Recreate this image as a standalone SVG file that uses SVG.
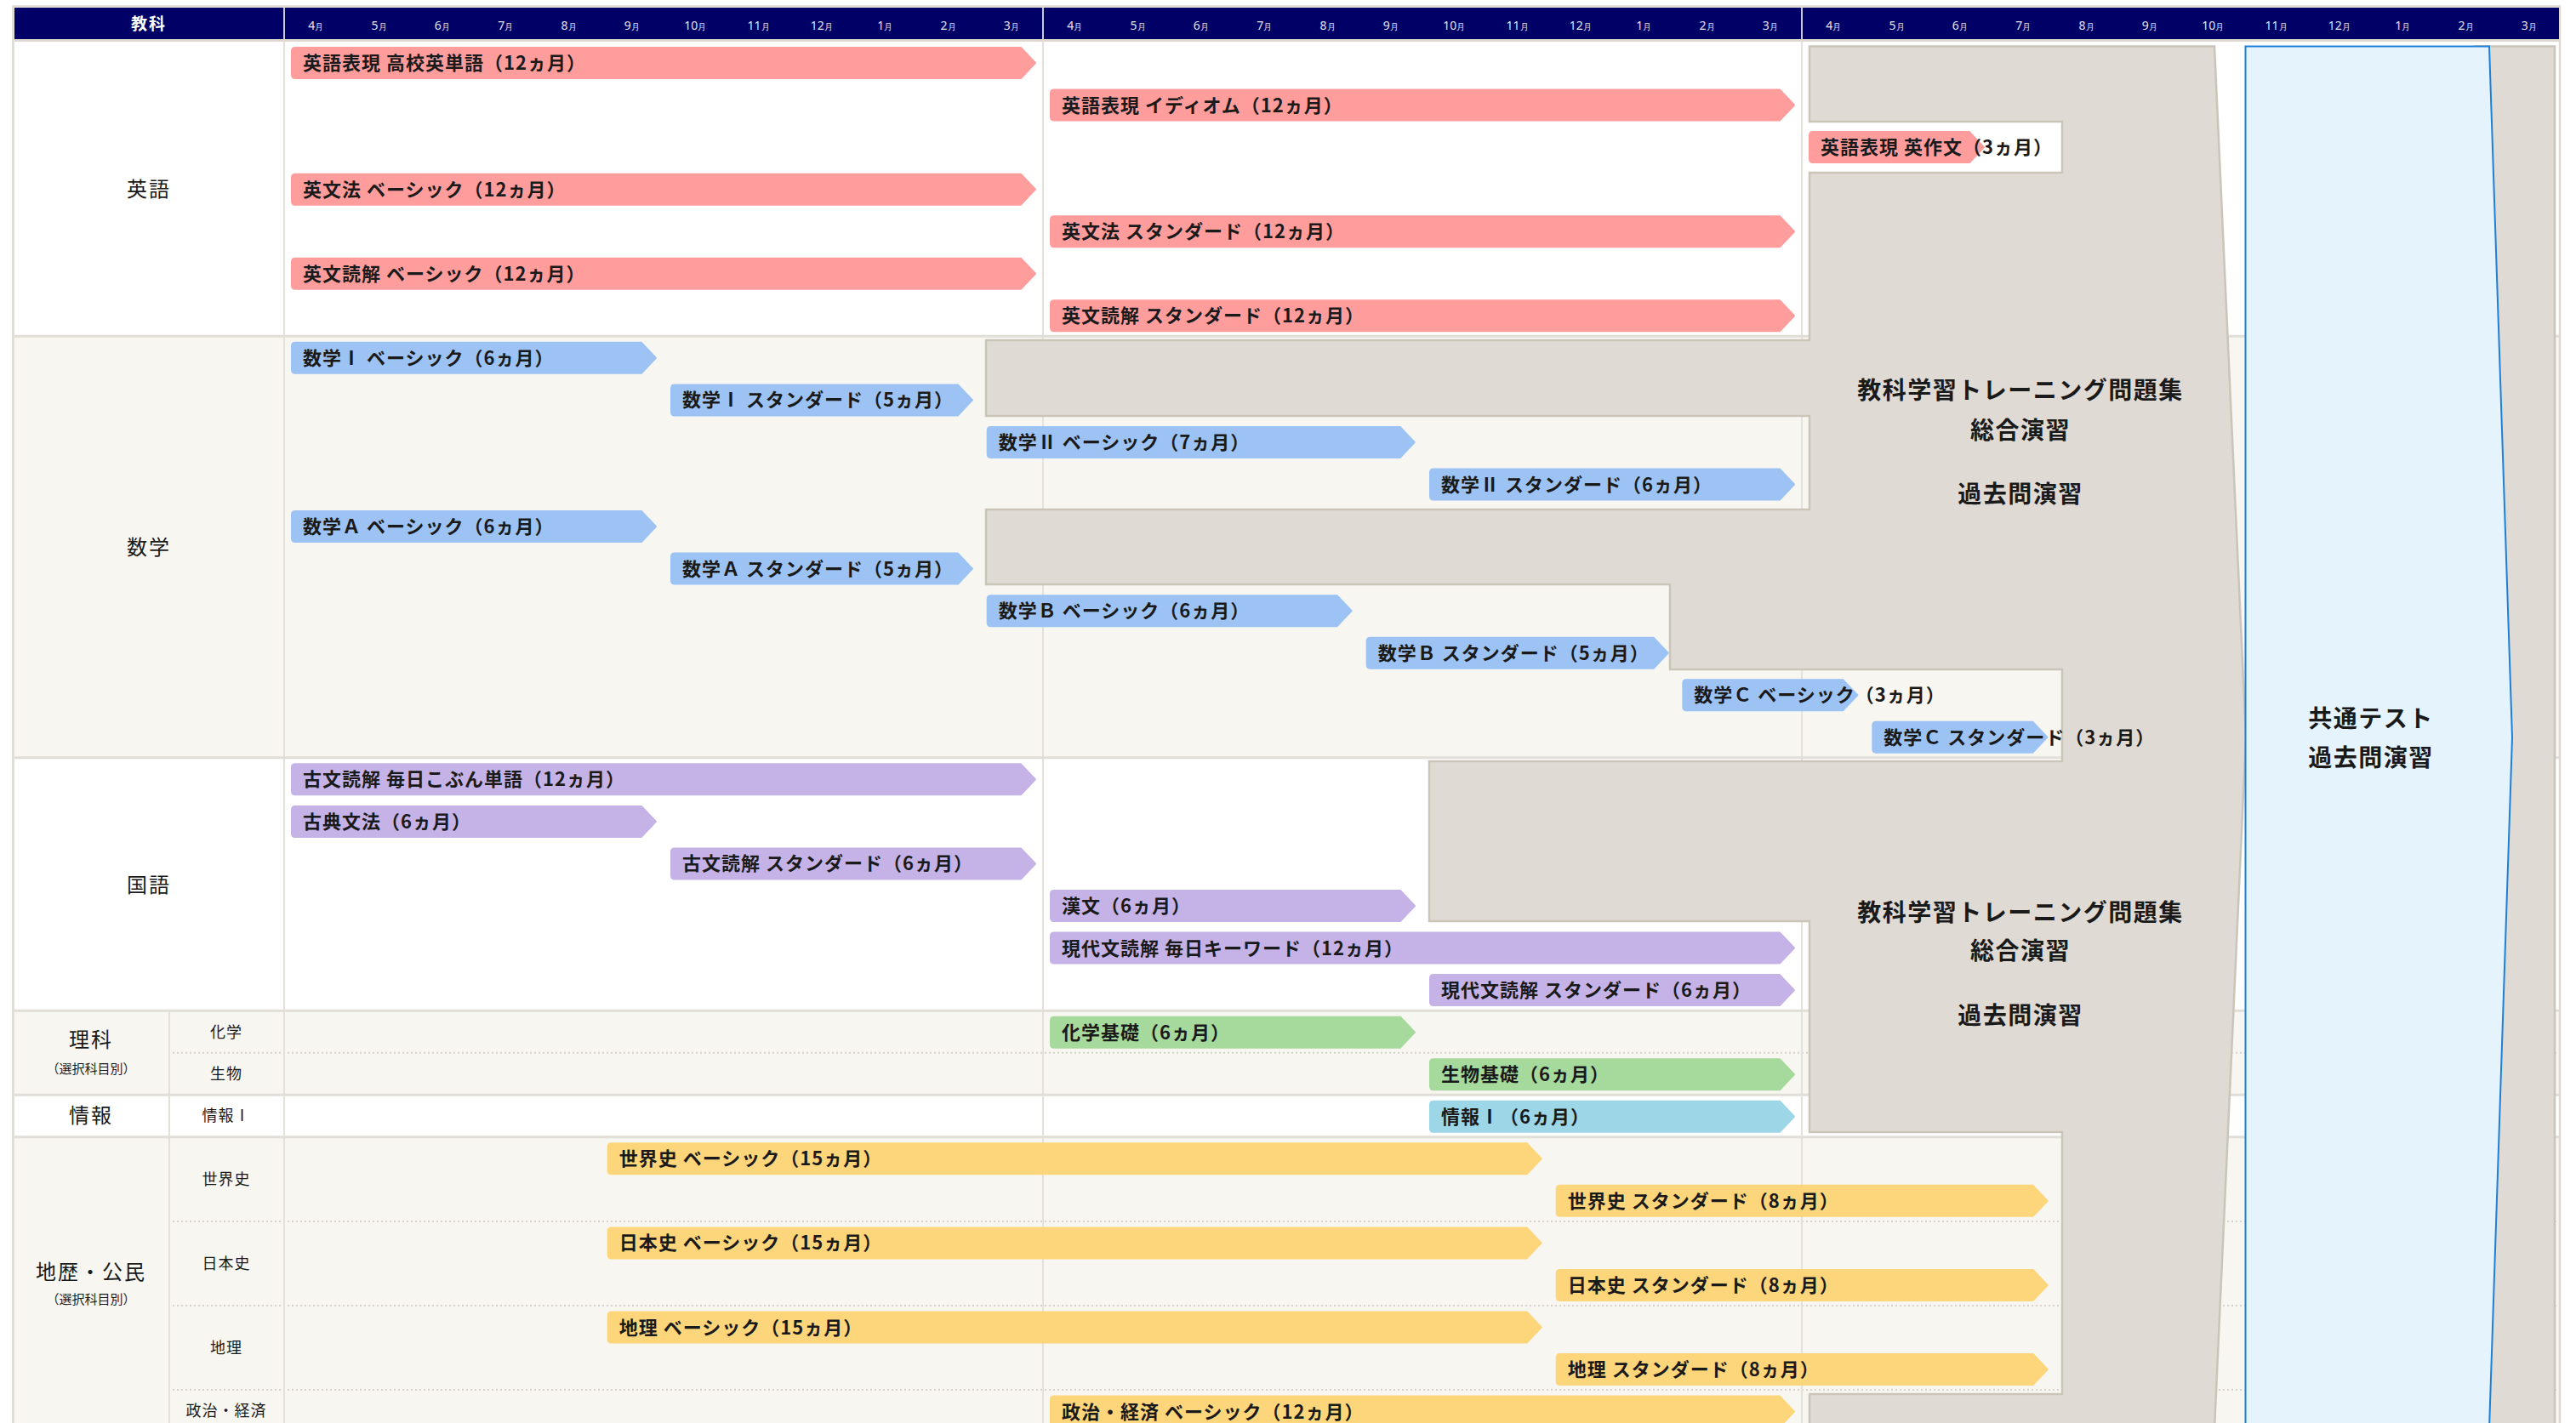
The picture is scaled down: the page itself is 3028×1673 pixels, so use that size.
<svg xmlns="http://www.w3.org/2000/svg" xmlns:xlink="http://www.w3.org/1999/xlink" width="3028" height="1673" viewBox="0 0 3028 1673">
<style>
text{font-family:"Noto Sans CJK JP","Noto Sans CJK SC","Noto Sans",sans-serif;}
.bar use{stroke-width:2;stroke-linejoin:round;}
.bar text{font-size:22px;font-weight:700;letter-spacing:1px;fill:#1a1a1a;stroke:none;}
.en{fill:#FF9D9D;stroke:#FF9D9D}
.ma{fill:#9CC3F4;stroke:#9CC3F4}
.jp{fill:#C5B2E6;stroke:#C5B2E6}
.sc{fill:#A6D99C;stroke:#A6D99C}
.inf{fill:#9DD6E7;stroke:#9DD6E7}
.so{fill:#FDD67B;stroke:#FDD67B}
.sec{stroke:#E1DED7;stroke-width:3}
.dot{stroke:#D6D2C9;stroke-width:2;stroke-dasharray:2 3}
.vl{stroke:#E4E1DA;stroke-width:2}
.mon{font-family:"Noto Sans","Liberation Sans",sans-serif;font-size:14px;fill:#E4E4F4;text-anchor:middle}
.mon tspan.m{font-size:10px}
.subj{font-size:24px;letter-spacing:2px;fill:#1a1a1a;text-anchor:middle}
.note{font-size:15px;fill:#1a1a1a;text-anchor:middle}
.sub{font-size:18px;letter-spacing:1px;fill:#1a1a1a;text-anchor:middle}
.big{font-size:28px;font-weight:700;letter-spacing:1.5px;fill:#1a1a1a;text-anchor:middle}
</style>
<defs>
<path id="b876" d="M5,1 H858 L875,19 L858,37 H5 Q1,37 1,33 V5 Q1,1 5,1 Z"/>
<path id="b207" d="M5,1 H189 L206,19 L189,37 H5 Q1,37 1,33 V5 Q1,1 5,1 Z"/>
<path id="b430" d="M5,1 H412 L429,19 L412,37 H5 Q1,37 1,33 V5 Q1,1 5,1 Z"/>
<path id="b356" d="M5,1 H338 L355,19 L338,37 H5 Q1,37 1,33 V5 Q1,1 5,1 Z"/>
<path id="b504" d="M5,1 H486 L503,19 L486,37 H5 Q1,37 1,33 V5 Q1,1 5,1 Z"/>
<path id="b1099" d="M5,1 H1081 L1098,19 L1081,37 H5 Q1,37 1,33 V5 Q1,1 5,1 Z"/>
<path id="b579" d="M5,1 H561 L578,19 L561,37 H5 Q1,37 1,33 V5 Q1,1 5,1 Z"/>
</defs>
<rect width="3028" height="1673" fill="#FFFFFF"/>

<g id="sections">
<rect x="17" y="48.5" width="2991" height="346.85" fill="#FFFFFF"/>
<rect x="17" y="395.35" width="2991" height="495.5" fill="#F7F6F1"/>
<rect x="17" y="890.85" width="2991" height="297.3" fill="#FFFFFF"/>
<rect x="17" y="1188.15" width="2991" height="99.1" fill="#F7F6F1"/>
<rect x="17" y="1287.25" width="2991" height="49.55" fill="#FFFFFF"/>
<rect x="17" y="1336.8" width="2991" height="360" fill="#F7F6F1"/>
</g>

<g id="grid">
<line class="dot" x1="203" y1="1237.7" x2="3008" y2="1237.7"/>
<line class="dot" x1="203" y1="1435.9" x2="3008" y2="1435.9"/>
<line class="dot" x1="203" y1="1535" x2="3008" y2="1535"/>
<line class="dot" x1="203" y1="1634.1" x2="3008" y2="1634.1"/>
<line class="vl" x1="334" y1="48" x2="334" y2="1700"/>
<line class="vl" x1="1226" y1="48" x2="1226" y2="1700"/>
<line class="vl" x1="2118" y1="48" x2="2118" y2="1700"/>
<line class="vl" x1="199" y1="1188" x2="199" y2="1700"/>
<line class="sec" x1="17" y1="395.35" x2="3008" y2="395.35"/>
<line class="sec" x1="17" y1="890.85" x2="3008" y2="890.85"/>
<line class="sec" x1="17" y1="1188.15" x2="3008" y2="1188.15"/>
<line class="sec" x1="17" y1="1287.25" x2="3008" y2="1287.25"/>
<line class="sec" x1="17" y1="1336.8" x2="3008" y2="1336.8"/>
<line x1="17" y1="47.5" x2="3008" y2="47.5" stroke="#DDD9D0" stroke-width="3"/>
<rect x="15.5" y="7.5" width="2993.5" height="1700" fill="none" stroke="#DDD9D0" stroke-width="2.5"/>
</g>

<g id="header">
<rect x="17" y="9" width="2991" height="37" fill="#000066"/>
<line x1="334" y1="9" x2="334" y2="46" stroke="#C9C9E2" stroke-width="2"/>
<line x1="1226" y1="9" x2="1226" y2="46" stroke="#C9C9E2" stroke-width="2"/>
<line x1="2118" y1="9" x2="2118" y2="46" stroke="#C9C9E2" stroke-width="2"/>
<text x="175" y="35" font-size="19" font-weight="700" letter-spacing="2" fill="#FFFFFF" text-anchor="middle">教科</text>
<text class="mon" x="371.2" y="34.5">4<tspan class="m">月</tspan></text>
<text class="mon" x="445.5" y="34.5">5<tspan class="m">月</tspan></text>
<text class="mon" x="519.8" y="34.5">6<tspan class="m">月</tspan></text>
<text class="mon" x="594.2" y="34.5">7<tspan class="m">月</tspan></text>
<text class="mon" x="668.5" y="34.5">8<tspan class="m">月</tspan></text>
<text class="mon" x="742.8" y="34.5">9<tspan class="m">月</tspan></text>
<text class="mon" x="817.2" y="34.5">10<tspan class="m">月</tspan></text>
<text class="mon" x="891.5" y="34.5">11<tspan class="m">月</tspan></text>
<text class="mon" x="965.8" y="34.5">12<tspan class="m">月</tspan></text>
<text class="mon" x="1040.2" y="34.5">1<tspan class="m">月</tspan></text>
<text class="mon" x="1114.5" y="34.5">2<tspan class="m">月</tspan></text>
<text class="mon" x="1188.8" y="34.5">3<tspan class="m">月</tspan></text>
<text class="mon" x="1263.2" y="34.5">4<tspan class="m">月</tspan></text>
<text class="mon" x="1337.5" y="34.5">5<tspan class="m">月</tspan></text>
<text class="mon" x="1411.8" y="34.5">6<tspan class="m">月</tspan></text>
<text class="mon" x="1486.2" y="34.5">7<tspan class="m">月</tspan></text>
<text class="mon" x="1560.5" y="34.5">8<tspan class="m">月</tspan></text>
<text class="mon" x="1634.8" y="34.5">9<tspan class="m">月</tspan></text>
<text class="mon" x="1709.2" y="34.5">10<tspan class="m">月</tspan></text>
<text class="mon" x="1783.5" y="34.5">11<tspan class="m">月</tspan></text>
<text class="mon" x="1857.8" y="34.5">12<tspan class="m">月</tspan></text>
<text class="mon" x="1932.2" y="34.5">1<tspan class="m">月</tspan></text>
<text class="mon" x="2006.5" y="34.5">2<tspan class="m">月</tspan></text>
<text class="mon" x="2080.8" y="34.5">3<tspan class="m">月</tspan></text>
<text class="mon" x="2155.2" y="34.5">4<tspan class="m">月</tspan></text>
<text class="mon" x="2229.5" y="34.5">5<tspan class="m">月</tspan></text>
<text class="mon" x="2303.8" y="34.5">6<tspan class="m">月</tspan></text>
<text class="mon" x="2378.2" y="34.5">7<tspan class="m">月</tspan></text>
<text class="mon" x="2452.5" y="34.5">8<tspan class="m">月</tspan></text>
<text class="mon" x="2526.8" y="34.5">9<tspan class="m">月</tspan></text>
<text class="mon" x="2601.2" y="34.5">10<tspan class="m">月</tspan></text>
<text class="mon" x="2675.5" y="34.5">11<tspan class="m">月</tspan></text>
<text class="mon" x="2749.8" y="34.5">12<tspan class="m">月</tspan></text>
<text class="mon" x="2824.2" y="34.5">1<tspan class="m">月</tspan></text>
<text class="mon" x="2898.5" y="34.5">2<tspan class="m">月</tspan></text>
<text class="mon" x="2972.8" y="34.5">3<tspan class="m">月</tspan></text>
</g>

<g id="subjects">
<text class="subj" x="175" y="231">英語</text>
<text class="subj" x="175" y="652">数学</text>
<text class="subj" x="175" y="1049">国語</text>
<text class="subj" x="107" y="1231">理科</text>
<text class="note" x="107" y="1261.5">（選択科目別）</text>
<text class="subj" x="107" y="1320">情報</text>
<text class="subj" x="107" y="1504">地歴・公民</text>
<text class="note" x="107" y="1533">（選択科目別）</text>
<text class="sub" x="266" y="1219.5">化学</text>
<text class="sub" x="266" y="1268.5">生物</text>
<text class="sub" x="266" y="1317.5">情報Ⅰ</text>
<text class="sub" x="266" y="1392.5">世界史</text>
<text class="sub" x="266" y="1491.5">日本史</text>
<text class="sub" x="266" y="1590.5">地理</text>
<text class="sub" x="266" y="1664.5">政治・経済</text>
</g>

<g id="practice">
<path id="training" d="M2127,54.5 L2603,54.5 L2640,867 L2603,1680 L2127,1680 L2127,1639 L2424,1639 L2424,1331 L2127,1331 L2127,1083 L1680,1083 L1680,895 L2424,895 L2424,787 L1963,787 L1963,687 L1159,687 L1159,599 L2127,599 L2127,489 L1159,489 L1159,400 L2127,400 L2127,203 L2424,203 L2424,143 L2127,143 Z" fill="#DFDBD4" stroke="#CBC5B9" stroke-width="2.5" stroke-linejoin="miter"/>
<rect x="2910" y="54.5" width="93" height="1630" fill="#DFDBD4" stroke="#CBC5B9" stroke-width="2.5"/>
<path id="kyotsu" d="M2639.5,54.5 L2926,54.5 L2953,867 L2926,1680 L2639.5,1680 Z" fill="#E5F3FD" stroke="#1E7FD6" stroke-width="2"/>
<text class="big" x="2375" y="468.6">教科学習トレーニング問題集</text>
<text class="big" x="2375" y="515.6">総合演習</text>
<text class="big" x="2375" y="590.6">過去問演習</text>
<text class="big" x="2375" y="1082.6">教科学習トレーニング問題集</text>
<text class="big" x="2375" y="1127.6">総合演習</text>
<text class="big" x="2375" y="1203.6">過去問演習</text>
<text class="big" x="2787" y="854.6">共通テスト</text>
<text class="big" x="2787" y="900.6">過去問演習</text>
</g>

<g id="bars">
<g id="bar-en1" class="bar en" transform="translate(342,55)"><use href="#b876"/><text x="14" y="27">英語表現 高校英単語（12ヵ月）</text></g>
<g id="bar-en2" class="bar en" transform="translate(1234,104.55)"><use href="#b876"/><text x="14" y="27">英語表現 イディオム（12ヵ月）</text></g>
<g id="bar-en3" class="bar en" transform="translate(2126,154.1)"><use href="#b207"/><text x="14" y="27">英語表現 英作文（3ヵ月）</text></g>
<g id="bar-en4" class="bar en" transform="translate(342,203.65)"><use href="#b876"/><text x="14" y="27">英文法 ベーシック（12ヵ月）</text></g>
<g id="bar-en5" class="bar en" transform="translate(1234,253.2)"><use href="#b876"/><text x="14" y="27">英文法 スタンダード（12ヵ月）</text></g>
<g id="bar-en6" class="bar en" transform="translate(342,302.75)"><use href="#b876"/><text x="14" y="27">英文読解 ベーシック（12ヵ月）</text></g>
<g id="bar-en7" class="bar en" transform="translate(1234,352.3)"><use href="#b876"/><text x="14" y="27">英文読解 スタンダード（12ヵ月）</text></g>

<g id="bar-ma1" class="bar ma" transform="translate(342,401.85)"><use href="#b430"/><text x="14" y="27">数学Ⅰ ベーシック（6ヵ月）</text></g>
<g id="bar-ma2" class="bar ma" transform="translate(788,451.4)"><use href="#b356"/><text x="14" y="27">数学Ⅰ スタンダード（5ヵ月）</text></g>
<g id="bar-ma3" class="bar ma" transform="translate(1159.7,500.95)"><use href="#b504"/><text x="14" y="27">数学Ⅱ ベーシック（7ヵ月）</text></g>
<g id="bar-ma4" class="bar ma" transform="translate(1680,550.5)"><use href="#b430"/><text x="14" y="27">数学Ⅱ スタンダード（6ヵ月）</text></g>
<g id="bar-ma5" class="bar ma" transform="translate(342,600.05)"><use href="#b430"/><text x="14" y="27">数学Ａ ベーシック（6ヵ月）</text></g>
<g id="bar-ma6" class="bar ma" transform="translate(788,649.6)"><use href="#b356"/><text x="14" y="27">数学Ａ スタンダード（5ヵ月）</text></g>
<g id="bar-ma7" class="bar ma" transform="translate(1159.7,699.15)"><use href="#b430"/><text x="14" y="27">数学Ｂ ベーシック（6ヵ月）</text></g>
<g id="bar-ma8" class="bar ma" transform="translate(1605.7,748.7)"><use href="#b356"/><text x="14" y="27">数学Ｂ スタンダード（5ヵ月）</text></g>
<g id="bar-ma9" class="bar ma" transform="translate(1977.3,798.25)"><use href="#b207"/><text x="14" y="27">数学Ｃ ベーシック（3ヵ月）</text></g>
<g id="bar-ma10" class="bar ma" transform="translate(2200.3,847.8)"><use href="#b207"/><text x="14" y="27">数学Ｃ スタンダード（3ヵ月）</text></g>

<g id="bar-jp1" class="bar jp" transform="translate(342,897.35)"><use href="#b876"/><text x="14" y="27">古文読解 毎日こぶん単語（12ヵ月）</text></g>
<g id="bar-jp2" class="bar jp" transform="translate(342,946.9)"><use href="#b430"/><text x="14" y="27">古典文法（6ヵ月）</text></g>
<g id="bar-jp3" class="bar jp" transform="translate(788,996.45)"><use href="#b430"/><text x="14" y="27">古文読解 スタンダード（6ヵ月）</text></g>
<g id="bar-jp4" class="bar jp" transform="translate(1234,1046)"><use href="#b430"/><text x="14" y="27">漢文（6ヵ月）</text></g>
<g id="bar-jp5" class="bar jp" transform="translate(1234,1095.55)"><use href="#b876"/><text x="14" y="27">現代文読解 毎日キーワード（12ヵ月）</text></g>
<g id="bar-jp6" class="bar jp" transform="translate(1680,1145.1)"><use href="#b430"/><text x="14" y="27">現代文読解 スタンダード（6ヵ月）</text></g>

<g id="bar-sc1" class="bar sc" transform="translate(1234,1194.65)"><use href="#b430"/><text x="14" y="27">化学基礎（6ヵ月）</text></g>
<g id="bar-sc2" class="bar sc" transform="translate(1680,1244.2)"><use href="#b430"/><text x="14" y="27">生物基礎（6ヵ月）</text></g>
<g id="bar-in1" class="bar inf" transform="translate(1680,1293.75)"><use href="#b430"/><text x="14" y="27">情報Ⅰ（6ヵ月）</text></g>

<g id="bar-so1" class="bar so" transform="translate(713.7,1343.3)"><use href="#b1099"/><text x="14" y="27">世界史 ベーシック（15ヵ月）</text></g>
<g id="bar-so2" class="bar so" transform="translate(1828.7,1392.85)"><use href="#b579"/><text x="14" y="27">世界史 スタンダード（8ヵ月）</text></g>
<g id="bar-so3" class="bar so" transform="translate(713.7,1442.4)"><use href="#b1099"/><text x="14" y="27">日本史 ベーシック（15ヵ月）</text></g>
<g id="bar-so4" class="bar so" transform="translate(1828.7,1491.95)"><use href="#b579"/><text x="14" y="27">日本史 スタンダード（8ヵ月）</text></g>
<g id="bar-so5" class="bar so" transform="translate(713.7,1541.5)"><use href="#b1099"/><text x="14" y="27">地理 ベーシック（15ヵ月）</text></g>
<g id="bar-so6" class="bar so" transform="translate(1828.7,1591.05)"><use href="#b579"/><text x="14" y="27">地理 スタンダード（8ヵ月）</text></g>
<g id="bar-so7" class="bar so" transform="translate(1234,1640.6)"><use href="#b876"/><text x="14" y="27">政治・経済 ベーシック（12ヵ月）</text></g>
</g>
</svg>
